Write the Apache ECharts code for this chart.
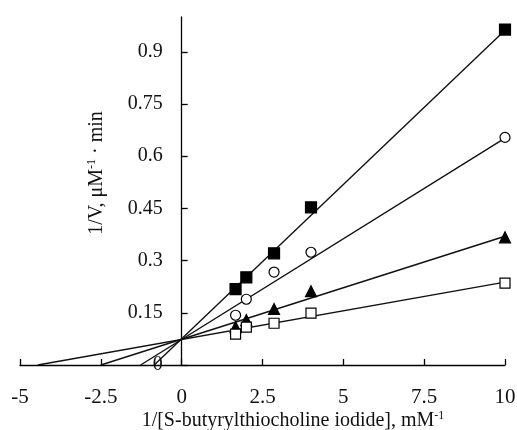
<!DOCTYPE html>
<html>
<head>
<meta charset="utf-8">
<script src="https://cdn.jsdelivr.net/npm/echarts@6/dist/echarts.min.js"></script>
<style>
html, body { margin: 0; padding: 0; background: #fff; }
#chart { width: 517px; height: 430px; }
</style>
</head>
<body>
<div id="chart"></div>
<script>
// 1/[S] 值 (mM-1)
var xValues = [1.667, 2, 2.857, 4, 10];
// 各组 1/V 数据
var filledSquare = [0.218, 0.252, 0.321, 0.453, 0.964];
var openCircle = [0.143, 0.189, 0.267, 0.324, 0.654];
var filledTriangle = [0.109, 0.129, 0.161, 0.212, 0.367];
var openSquare = [0.089, 0.109, 0.120, 0.149, 0.235];
// 拟合直线: 与x轴交点, 以及 x=10 处的值
var lineStartX = [-0.85, -1.27, -2.5, -4.45];
var lineEndY = [0.962, 0.652, 0.37, 0.238];
var lineEndX = 10;
// 刻度
var xTicks = [-5, -2.5, 0, 2.5, 5, 7.5, 10];
var yTicks = [0, 0.15, 0.3, 0.45, 0.6, 0.75, 0.9];

var FONT = "'Liberation Serif', 'Times New Roman', serif";

var gridLeft = 20, gridRight = 12, chartWidth = 517;
var xMin = -5, xMax = 10;
// y轴放在 x=0 处
var plotWidth = chartWidth - gridLeft - gridRight;
var yAxisOffset = -(0 - xMin) / (xMax - xMin) * plotWidth;

function pairs(xs, ys) {
	var out = [];
	for (var i = 0; i < xs.length; i++) {
		out.push([xs[i], ys[i]]);
	}
	return out;
}

var chart = echarts.init(document.getElementById('chart'));

var series = [];
// 先画直线
for (var i = 0; i < lineStartX.length; i++) {
	series.push({
		type : 'line',
		data : [[lineStartX[i], 0], [lineEndX, lineEndY[i]]],
		showSymbol : false,
		silent : true,
		z : 1,
		lineStyle : { color : '#111', width : 1.4 }
	});
}
// 再画数据点
var pointSets = [
	{ data : filledSquare, symbol : 'rect', size : 11, fill : '#000' },
	{ data : openCircle, symbol : 'circle', size : 10, fill : '#fff' },
	{ data : filledTriangle, symbol : 'triangle', size : 11, fill : '#000' },
	{ data : openSquare, symbol : 'rect', size : 10, fill : '#fff' }
];
pointSets.forEach(function(p) {
	series.push({
		type : 'scatter',
		data : pairs(xValues, p.data),
		symbol : p.symbol,
		symbolSize : p.size,
		z : 3,
		itemStyle : { color : p.fill, borderColor : '#000', borderWidth : 1.2, opacity : 1 }
	});
});

var option = {
	backgroundColor : '#fff',
	animation : false,
	grid : {
		left : gridLeft,
		right : gridRight,
		top : 17,
		bottom : 65,
		containLabel : false,
		outerBoundsMode : 'none'
	},
	xAxis : {
		type : 'value',
		min : xMin,
		max : xMax,
		interval : 2.5,
		splitLine : { show : false },
		axisLine : { onZero : false, lineStyle : { color : '#000', width : 1.3 } },
		axisTick : { inside : true, length : 6, lineStyle : { color : '#000', width : 1.3 } },
		axisLabel : {
			color : '#111',
			fontFamily : FONT,
			fontSize : 21,
			margin : 22,
			customValues : xTicks
		}
	},
	yAxis : {
		type : 'value',
		min : 0,
		max : 1,
		interval : 0.15,
		offset : yAxisOffset,
		splitLine : { show : false },
		axisLine : { onZero : false, lineStyle : { color : '#000', width : 1.3 } },
		axisTick : { inside : true, length : 6, customValues : yTicks, lineStyle : { color : '#000', width : 1.3 } },
		axisLabel : {
			color : '#111',
			fontFamily : FONT,
			fontSize : 20,
			margin : 19,
			customValues : yTicks
		}
	},
	graphic : [
		{
			type : 'text',
			x : 97,
			y : 173,
			rotation : Math.PI / 2,
			style : {
				text : '1/V, μM{sup|-1} · min',
				fill : '#111',
				font : '20px ' + FONT,
				align : 'center',
				verticalAlign : 'middle',
				rich : {
					sup : { fontFamily : FONT, fontSize : 12, fill : '#111', verticalAlign : 'top', lineHeight : 22 }
				}
			}
		},
		{
			type : 'text',
			x : 293,
			y : 421,
			style : {
				text : '1/[S-butyrylthiocholine iodide], mM{sup|-1}',
				fill : '#111',
				font : '20px ' + FONT,
				align : 'center',
				verticalAlign : 'middle',
				rich : {
					sup : { fontFamily : FONT, fontSize : 12, fill : '#111', verticalAlign : 'top', lineHeight : 22 }
				}
			}
		}
	],
	series : series
};

chart.setOption(option);
</script>
</body>
</html>
